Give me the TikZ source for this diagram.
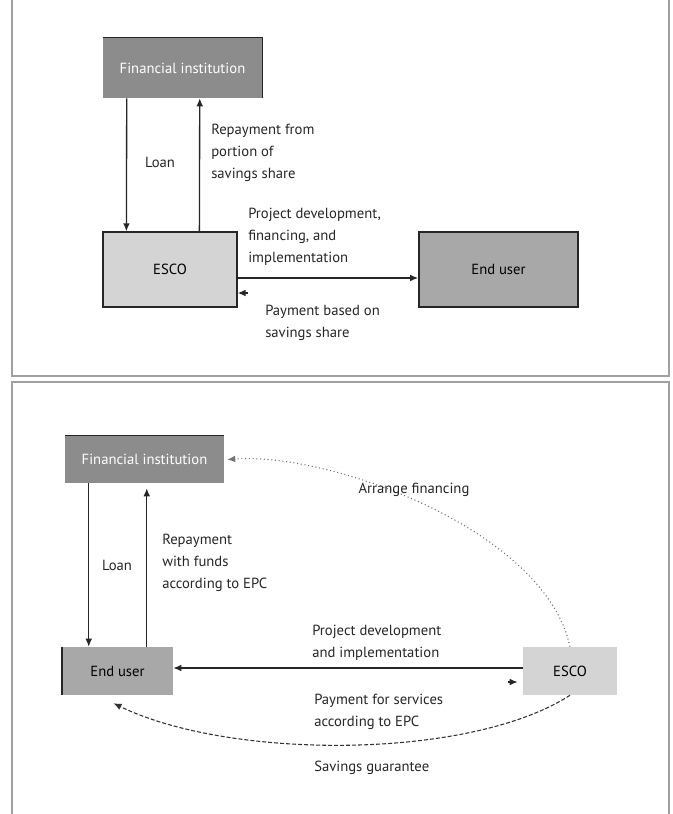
\documentclass[tikz,border=0pt]{standalone}
\usepackage{fontspec}
\setmainfont{PT Sans}
\usetikzlibrary{calc,arrows.meta}
\definecolor{fingray}{HTML}{8C8C8C}
\definecolor{usergray}{HTML}{A8A8A8}
\definecolor{escogray}{HTML}{D4D4D4}
\definecolor{framegray}{HTML}{A0A0A0}

\begin{document}
\begin{tikzpicture}[x=0.75pt, y=-0.75pt, >={Latex[length=6pt,width=5pt]},
    box/.style={inner sep=0pt, font=\fontsize{11}{13}\selectfont},
    lbl/.style={inner sep=0pt, align=left, text=black!85, font=\fontsize{11}{16.5}\selectfont},
    link/.style={line width=1pt, black!85},
    panel/.style={line width=1.1pt, framegray}]
  \useasboundingbox (0,0) rectangle (672,814);
  \draw [panel] (12,0) -- (12,376) -- (669,376) -- (669,0);
  \draw [panel] (12,814) -- (12,382) -- (669,382) -- (669,814);

  \node [box, fill=fingray, text=white, minimum width=119.25pt, minimum height=45pt] (FIa) at (182.5,68) {Financial institution};
  \node [box, fill=escogray, draw=black!85, line width=0.9pt, minimum width=100.5pt, minimum height=56.25pt] (ESCOa) at (170,269.5) {ESCO};
  \node [box, fill=usergray, draw=black!85, line width=1.2pt, minimum width=119.25pt, minimum height=56.25pt] (EUa) at (498.5,269.5) {End user};
  \draw [link] (FIa.north west) -- (FIa.north east) -- (FIa.south east);
  \draw [link,->] ($(FIa.south west)+(24,0)$) -- ($(ESCOa.north west)+(24,0)$);
  \draw [link,->] ($(ESCOa.north west)+(97,0)$) -- ($(FIa.south west)+(97,0)$);
  \draw [link,->] ($(ESCOa.east)+(0,8.5)$) -- ($(EUa.west)+(0,8.5)$);
  \coordinate (paya) at ($(ESCOa.east)+(10,23.5)$);
  \draw [link,->] (paya) -- ($(ESCOa.east)+(0,23.5)$);
  \node [lbl] (loana) at (160,162) {Loan};
  \node [lbl, anchor=west] (repaya) at (211,153) {Repayment from\\portion of\\savings share};
  \node [lbl, anchor=west] (deva) at (248,237) {Project development,\\financing, and\\implementation};
  \node [lbl, anchor=west] (sharea) at (265,323) {Payment based on\\savings share};

  \node [box, fill=fingray, text=white, minimum width=119.25pt, minimum height=35.25pt] (FIb) at (144.5,459.5) {Financial institution};
  \node [box, fill=usergray, minimum width=83.25pt, minimum height=36pt] (EUb) at (117.5,671) {End user};
  \node [box, fill=escogray, minimum width=70.5pt, minimum height=36pt] (ESCOb) at (570,671) {ESCO};
  \draw [link] (FIb.north west) -- (FIb.north east);
  \draw [link, line width=1.2pt] (EUb.north west) -- (EUb.south west);
  \draw [link,->] ($(FIb.south west)+(24,0)$) coordinate (l) -- (l |- EUb.north);
  \draw [link,->] ($(EUb.north west)+(85,0)$) coordinate (r) -- ($(r |- FIb.south)+(0,5)$);
  \draw [link,->] ($(ESCOb.west)+(0,-3)$) -- ($(EUb.east)+(0,-3)$);
  \coordinate (payb) at ($(ESCOb.west)+(-15,11)$);
  \draw [link,->] (payb) -- ($(ESCOb.west)+(-5,11)$);
  \draw [->, dotted, line width=0.8pt, black!55] (ESCOb.north) .. controls (545,530) and (330,452) .. ($(FIb.east)+(3,0)$);
  \draw [->, dash pattern=on 3pt off 1.5pt, line width=0.8pt, black!80] (ESCOb.south) .. controls (470,760) and (230,760) .. ($(EUb.south)+(-4,8)$);
  \node [lbl] (arrange) at (414,490) {Arrange financing};
  \node [lbl] (loanb) at (117,565) {Loan};
  \node [lbl, anchor=west] (repayb) at (162,563) {Repayment\\with funds\\according to EPC};
  \node [lbl, anchor=west] (devb) at (312,643) {Project development\\and implementation};
  \node [lbl, anchor=west] (payserv) at (314,712) {Payment for services\\according to EPC};
  \node [lbl, anchor=west] (guarantee) at (314,768) {Savings guarantee};
\end{tikzpicture}
\end{document}
